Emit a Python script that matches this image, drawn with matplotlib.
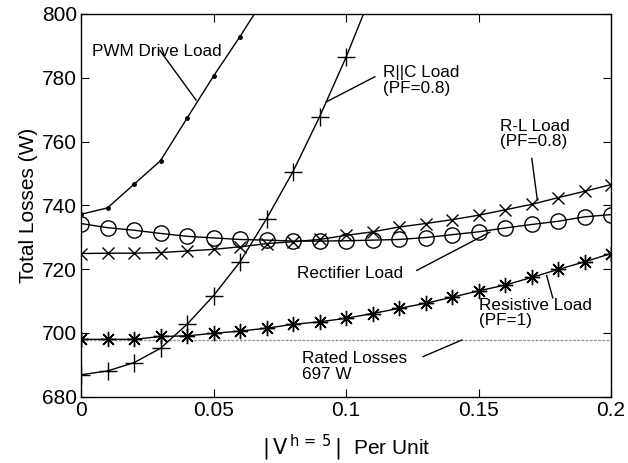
import numpy as np
import matplotlib
matplotlib.use('Agg')
import matplotlib.pyplot as plt

plt.rcParams['font.family'] = ['Liberation Sans', 'DejaVu Sans']

# harmonic voltage (per unit)
x = np.round(np.arange(0, 0.2001, 0.01), 2)

pwmX = [0.0, 0.01, 0.02, 0.03, 0.04, 0.05, 0.06, 0.07]
pwm = [737.2, 739.2, 746.6, 754.0, 767.3, 780.5, 792.9, 806.0]

rcX = [0.0, 0.01, 0.02, 0.03, 0.04, 0.05, 0.06, 0.07, 0.08, 0.09, 0.1, 0.11]
rc = [686.9, 688.1, 690.7, 695.2, 702.7, 711.7, 722.3, 735.8, 750.6, 767.7, 786.4, 807.0]

rl = [724.9, 725.0, 725.0, 725.2, 725.7, 726.2, 727.0, 728.0, 728.6, 729.3, 730.6,
      731.7, 733.2, 734.3, 735.5, 736.9, 738.6, 740.3, 742.4, 744.4, 746.5]
rect = [734.3, 733.0, 732.2, 731.2, 730.3, 729.8, 729.3, 729.1, 728.8, 728.8, 728.9,
        729.1, 729.3, 729.9, 730.8, 731.7, 732.9, 734.0, 735.0, 736.4, 737.1]
resist = [698.0, 698.0, 698.0, 698.9, 699.1, 699.9, 700.6, 701.5, 702.7, 703.5, 704.6,
          706.1, 707.7, 709.3, 711.2, 713.2, 715.0, 717.4, 719.9, 722.3, 724.9]
rated = 697.8

fig = plt.figure()
fig.set_size_inches(6.28, 4.63)
ax = fig.add_axes([0.129, 0.143, 0.844, 0.827])

ax.axhline(rated, color='#999999', lw=1, ls=(0, (2, 1)), zorder=1)
ax.plot(pwmX[:7], pwm[:7], 'k.-', lw=1, ms=5)
ax.plot(pwmX[6:], pwm[6:], 'k-', lw=1)
ax.plot(rcX[:11], rc[:11], 'k+-', lw=1, ms=13, mew=1)
ax.plot(rcX[10:], rc[10:], 'k-', lw=1)
ax.plot(x, rl, 'kx-', lw=1, ms=8, mew=1)
ax.plot(x, rect, 'ko-', lw=1, ms=11, mfc='none', mew=1)
ax.plot(x, resist, 'k-', marker=(8, 2, 0), lw=1, ms=11, mew=1)

ax.set_xlim(0, 0.2)
ax.set_ylim(680, 800)
ax.set_xticks([0, 0.05, 0.1, 0.15, 0.2])
ax.set_xticklabels(['0', '0.05', '0.1', '0.15', '0.2'])
ax.set_yticks(range(680, 801, 20))
ax.tick_params(direction='in', top=True, right=True, length=6, labelsize=15, pad=3)
for s in ax.spines.values():
    s.set_linewidth(1)

ax.set_ylabel('Total Losses (W)', fontsize=15, labelpad=3)
ax.set_xlabel(r'$|\,\mathrm{V}^{\,\mathrm{h\,=\,5}}\,|$  Per Unit', fontsize=15, labelpad=9)

fs = 12.3
def note(txt, tx, ty, x0, y0, x1, y1, ha='left'):
    ax.text(tx, ty, txt, fontsize=fs, ha=ha, va='center', linespacing=1.05)
    ax.plot([x0, x1], [y0, y1], 'k-', lw=1)

note('PWM Drive Load', 0.0040, 788.3, 0.0298, 788.5, 0.0434, 773.0)
note('R||C Load\n(PF=0.8)', 0.1140, 779.1, 0.1109, 780.3, 0.0925, 772.4)
note('R-L Load\n(PF=0.8)', 0.1581, 762.3, 0.1701, 754.7, 0.1722, 741.6)
note('Rectifier Load', 0.0814, 718.5, 0.1267, 719.6, 0.1543, 731.6)
note('Resistive Load\n(PF=1)', 0.1503, 706.3, 0.1757, 718.0, 0.1780, 711.0)
note('Rated Losses\n697 W', 0.0833, 689.5, 0.1291, 692.6, 0.1437, 697.8)

fig.savefig('out.png', dpi=100)
